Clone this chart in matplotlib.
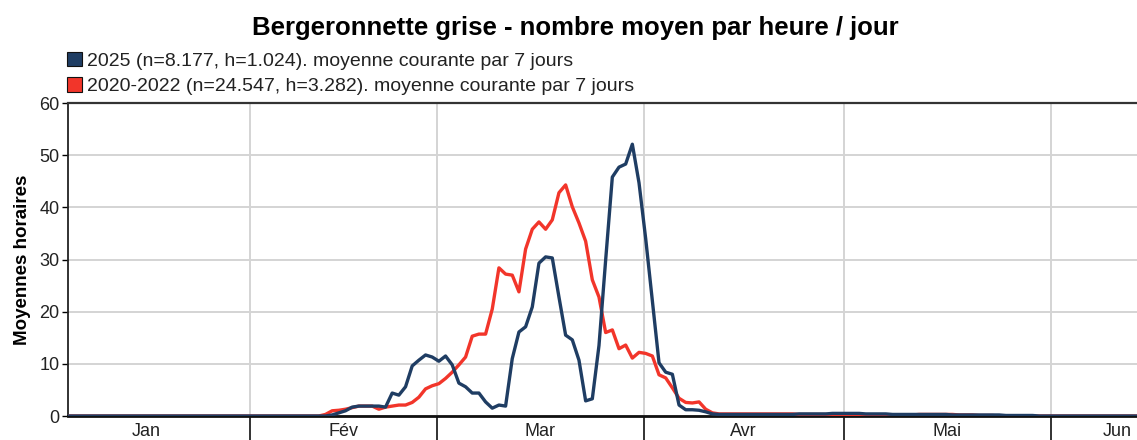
import matplotlib.pyplot as plt
from matplotlib.patches import Patch
import numpy as np

plt.rcParams['font.family'] = ['Liberation Sans', 'DejaVu Sans']

# Données : moyenne courante par 7 jours, un point par jour (jour 0 = 1er janvier)
premier_jour = 3

serie_2025 = (
    [0.0] * 39 +  # jours 3 à 41
    [0.0, 0.2, 0.6, 1.0, 1.7, 1.9, 1.9, 1.9, 1.9, 1.7,      # 42-51
     4.4, 4.0, 5.6, 9.6, 10.7, 11.7, 11.3, 10.5, 11.5, 9.8,  # 52-61
     6.3, 5.6, 4.4, 4.4, 2.7, 1.5, 2.1, 1.9, 11.0, 16.1,     # 62-71
     17.1, 20.9, 29.3, 30.5, 30.3, 22.8, 15.5, 14.6, 10.7, 2.9,  # 72-81
     3.3, 13.5, 29.9, 45.8, 47.7, 48.3, 52.1, 44.7, 34.0, 22.0,  # 82-91
     10.2, 8.4, 8.0, 2.1, 1.2, 1.2, 1.1, 0.8, 0.4,               # 92-100
     0.3, 0.3, 0.3, 0.3, 0.3, 0.3, 0.3, 0.3, 0.3, 0.3,
     0.3, 0.3, 0.4, 0.4, 0.4, 0.4, 0.4, 0.5, 0.5, 0.5,
     0.5, 0.5, 0.4, 0.4, 0.4, 0.4, 0.3, 0.3, 0.3, 0.3,
     0.3, 0.3, 0.3, 0.3, 0.3, 0.2, 0.2, 0.2, 0.2, 0.2,
     0.2, 0.2, 0.2, 0.1, 0.1, 0.1, 0.1, 0.1, 0.0, 0.0] +
    [0.0] * 20
)

serie_2020_2022 = (
    [0.0] * 39 +
    [0.3, 1.0, 1.1, 1.3, 1.6, 1.9, 1.9, 1.9, 1.3, 1.7,        # 42-51
     1.9, 2.1, 2.1, 2.6, 3.6, 5.2, 5.8, 6.2, 7.2, 8.4,        # 52-61
     9.8, 11.3, 15.3, 15.7, 15.7, 20.5, 28.4, 27.2, 27.0, 23.8,  # 62-71
     32.0, 35.8, 37.2, 35.8, 37.6, 42.8, 44.3, 40.1, 37.0, 33.5,  # 72-81
     26.1, 22.8, 16.0, 16.5, 12.9, 13.6, 11.1, 12.2, 12.0, 11.5,  # 82-91
     7.9, 7.3, 5.4, 3.4, 2.6, 2.5, 2.7, 1.3, 0.6,                 # 92-100
     0.4, 0.4, 0.4, 0.4, 0.4, 0.4, 0.4, 0.4, 0.4, 0.4,
     0.4, 0.4, 0.3, 0.3, 0.3, 0.3, 0.3, 0.2, 0.2, 0.2,
     0.2, 0.2, 0.2, 0.2, 0.2, 0.2, 0.2, 0.2, 0.2, 0.2,
     0.3, 0.3, 0.3, 0.3, 0.3, 0.3, 0.2, 0.2, 0.2, 0.1,
     0.1, 0.1, 0.0, 0.0, 0.0, 0.0, 0.0, 0.0, 0.0, 0.0] +
    [0.0] * 20
)

mois = ['Jan', 'Fév', 'Mar', 'Avr', 'Mai', 'Jun']
debut_mois = [0, 31, 59, 90, 120, 151, 181]

libelle_2025 = '2025 (n=8.177, h=1.024). moyenne courante par 7 jours'
libelle_ref = '2020-2022 (n=24.547, h=3.282). moyenne courante par 7 jours'

bleu = '#1f3d63'
rouge = '#f2352a'

x_min, x_max = 3.7, 171.0

fig = plt.figure(figsize=(11.37, 4.40), dpi=100)
ax = fig.add_axes([68 / 1137, 24 / 440, 1116 / 1137, 313 / 440])

jours_2025 = np.arange(premier_jour, premier_jour + len(serie_2025)) + 0.3
jours_ref = np.arange(premier_jour, premier_jour + len(serie_2020_2022)) + 0.3

ax.plot(jours_ref, serie_2020_2022, color=rouge, lw=2.4, zorder=3)
ax.plot(jours_2025, serie_2025, color=bleu, lw=2.4, zorder=4)

ax.set_xlim(x_min, x_max)
ax.set_ylim(0, 60)
ax.set_yticks(np.arange(0, 61, 10))

# limites des mois en ticks majeurs, noms des mois au milieu
ax.set_xticks(debut_mois[1:6])
ax.set_xticklabels([])
milieux = [(debut_mois[i] + min(debut_mois[i + 1], x_max)) / 2 for i in range(len(mois))]
ax.set_xticks(milieux, minor=True)
ax.set_xticklabels(mois, minor=True)
ax.tick_params(axis='x', which='major', length=17, width=1.3, color='#222222')
ax.tick_params(axis='x', which='minor', length=0, pad=5, labelsize=13, labelcolor='#222222')
ax.tick_params(axis='y', length=4, width=1, labelsize=13, labelcolor='#222222', pad=2)

ax.grid(True, which='major', color='#d4d4d4', lw=1.4)
ax.set_axisbelow(True)

ax.spines['right'].set_visible(False)
ax.spines['top'].set_color('#333333')
ax.spines['top'].set_linewidth(1.6)
ax.spines['left'].set_color('#222222')
ax.spines['left'].set_linewidth(1.3)
ax.spines['bottom'].set_color('#111111')
ax.spines['bottom'].set_linewidth(2)

ax.set_ylabel('Moyennes horaires', fontsize=13.5, fontweight='bold', labelpad=6)

fig.text(575 / 1137, 1 - 28 / 440, 'Bergeronnette grise - nombre moyen par heure / jour',
         ha='center', va='center', fontsize=18.5, fontweight='bold')

poignees = [Patch(facecolor=bleu, edgecolor='#111111', lw=0.8),
            Patch(facecolor=rouge, edgecolor='#111111', lw=0.8)]
fig.legend(poignees, [libelle_2025, libelle_ref], loc='upper left',
           bbox_to_anchor=(67 / 1137, 1 - 52 / 440), frameon=False,
           fontsize=14, handlelength=0.75, handleheight=0.75, handletextpad=0.3,
           labelspacing=0.38, borderaxespad=0, borderpad=0, labelcolor='#222222')

fig.savefig('out.png', dpi=100)
